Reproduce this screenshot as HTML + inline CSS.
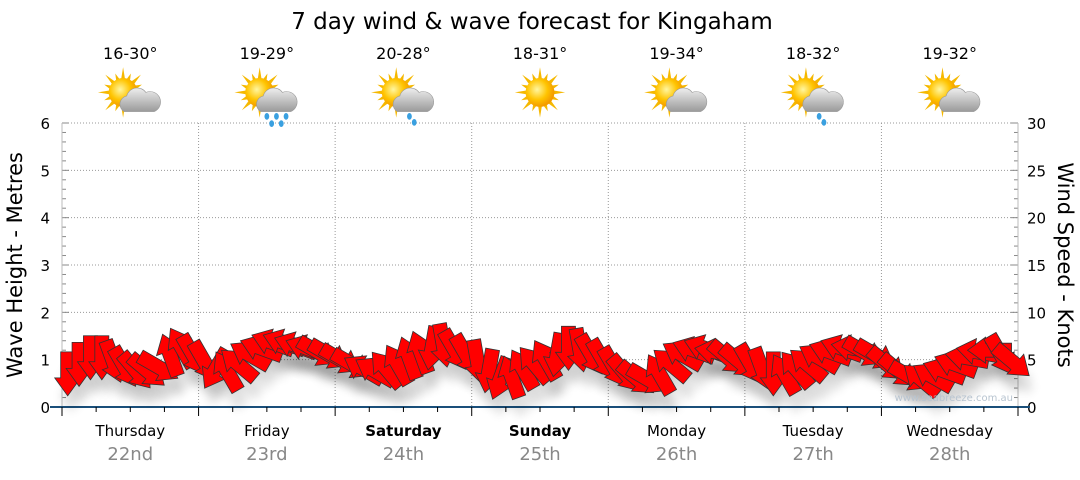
<!DOCTYPE html>
<html><head><meta charset="utf-8"><style>
body{margin:0;background:#fff;font-family:"Liberation Sans","DejaVu Sans",sans-serif}
svg text{font-family:"DejaVu Sans","Liberation Sans",sans-serif}
</style></head><body>
<svg id="c" width="1080" height="475">
<defs>
<filter id="sh" x="-50%" y="-50%" width="200%" height="200%"><feGaussianBlur stdDeviation="5"/></filter>
<radialGradient id="sun" cx="40%" cy="40%" r="60%"><stop offset="0" stop-color="#fff6a0"/><stop offset="0.6" stop-color="#ffc400"/><stop offset="1" stop-color="#f39a00"/></radialGradient>
<linearGradient id="cl" x1="0" y1="0" x2="0" y2="1"><stop offset="0" stop-color="#eeeeee"/><stop offset="1" stop-color="#9a9a9a"/></linearGradient>
</defs>
<text x="532" y="29" font-size="23" text-anchor="middle" fill="#000">7 day wind &amp; wave forecast for Kingaham</text>
<g id="grid"></g><g id="axes"></g><g id="icons"></g><g id="shadows"></g><g id="arrows"></g>
<text x="1013" y="401" font-size="10" text-anchor="end" fill="#b8c4d0">www.seabreeze.com.au</text>
<text transform="translate(22,265) rotate(-90)" font-size="21" text-anchor="middle">Wave Height - Metres</text>
<text transform="translate(1058,265) rotate(90)" font-size="21" text-anchor="middle">Wind Speed - Knots</text>
</svg>
<script>
const days=["Thursday","Friday","Saturday","Sunday","Monday","Tuesday","Wednesday"];
const dates=["22nd","23rd","24th","25th","26th","27th","28th"];
const boldDays=[false,false,true,true,false,false,false];
const temps=["16-30°","19-29°","20-28°","18-31°","19-34°","18-32°","19-32°"];
const iconTypes=["cloud","rain","shower","sun","cloud","shower","cloud"];
const waveTicks=[0,1,2,3,4,5,6];
const knotTicks=[0,5,10,15,20,25,30];
const windKnots=[3.5,4.5,5.2,5.2,4.8,4.2,3.8,3.8,4.2,5.5,6.3,5.5,
 4.8,4.0,3.8,4.5,5.5,6.2,6.8,6.8,6.5,6.2,5.8,5.5,
 5.0,4.5,4.0,3.8,4.0,4.5,5.2,5.8,6.2,6.5,6.0,5.5,
 4.8,3.8,3.0,3.2,4.0,4.5,5.0,5.5,6.2,6.0,5.5,5.0,
 4.2,3.5,3.0,2.9,3.5,4.5,5.5,6.0,6.2,5.8,5.2,4.8,
 4.5,4.0,3.5,3.5,4.0,4.5,5.2,5.8,6.2,6.2,5.8,5.5,
 4.5,3.8,3.2,2.9,3.2,3.8,4.5,5.2,5.8,6.0,5.5,4.8];
const windDir=[90,90,90,90,70,60,50,40,30,250,240,60,
 60,120,240,220,210,200,200,200,200,200,30,30,
 30,30,210,210,230,240,250,250,100,80,60,60,
 80,100,110,250,240,230,240,100,90,80,60,60,
 60,50,40,30,240,220,210,200,200,190,40,40,
 60,70,90,240,230,220,210,200,200,190,30,30,
 40,40,30,220,210,200,200,190,190,180,60,40];
const NS="http://www.w3.org/2000/svg";
const X0=62,X1=1018,Y0=407,Y1=123;
const xDay=d=>X0+(X1-X0)*d/7;
const yWave=m=>Y0-(Y0-Y1)*m/6;
const yKnot=k=>Y0-(Y0-Y1)*k/30;
function mk(tag,attrs,parent){const e=document.createElementNS(NS,tag);for(const k in attrs)e.setAttribute(k,attrs[k]);parent.appendChild(e);return e;}
const grid=document.getElementById('grid'),axes=document.getElementById('axes'),icons=document.getElementById('icons');
waveTicks.forEach(m=>{
  if(m>0){const l=mk('line',{x1:X0,x2:X1,y1:yWave(m),y2:yWave(m),stroke:'#999','stroke-dasharray':'1,2'},grid);
  
  }
  const t=mk('text',{x:50,y:yWave(m)+6,'font-size':15,'text-anchor':'end',fill:'#000'},axes);t.textContent=m;
  
  
});
knotTicks.forEach(k=>{
  const t=mk('text',{x:1027,y:yKnot(k)+6,'font-size':15,fill:'#000'},axes);t.textContent=k;
  
  
});
for(let i=0;i<=30;i++){const y=yKnot(i),w=(i%5==0)?7:4;
  mk('line',{x1:X0,x2:X0+w,y1:y,y2:y,stroke:'#888'},axes);
  mk('line',{x1:X1-w,x2:X1,y1:y,y2:y,stroke:'#888'},axes);}
mk('line',{x1:X0,x2:X0,y1:Y1,y2:Y0,stroke:'#bbb'},axes);
mk('line',{x1:X1,x2:X1,y1:Y1,y2:Y0,stroke:'#bbb'},axes);
for(let d=1;d<7;d++){const l=mk('line',{x1:xDay(d),x2:xDay(d),y1:Y1,y2:Y0,stroke:'#999','stroke-dasharray':'1,2'},grid);
  
  }
const ax=mk('line',{x1:X0-12,x2:X1+12,y1:Y0,y2:Y0,stroke:'#1a4f7a','stroke-width':2},axes);


for(let q=0;q<=28;q++){const x=X0+(X1-X0)*q/28;mk('line',{x1:x,x2:x,y1:Y0,y2:Y0+(q%4==0?9:5),stroke:'#000'},axes);}
days.forEach((d,i)=>{const cx=xDay(i+0.5);
  const t=mk('text',{x:cx,y:436,'font-size':15,'text-anchor':'middle','font-weight':boldDays[i]?'bold':'normal'},axes);t.textContent=d;
  
  
  const t2=mk('text',{x:cx,y:460,'font-size':18,'text-anchor':'middle',fill:'#888'},axes);t2.textContent=dates[i];
  
  
  const t3=mk('text',{x:cx,y:59,'font-size':16,'text-anchor':'middle'},icons);t3.textContent=temps[i];
  
  
  const g=mk('g',{transform:`translate(${cx},96) scale(1.2)`},icons);
  
  
  const sx=iconTypes[i]=='sun'?0:-6;
  for(let r=0;r<16;r++){const a=r*Math.PI/8,L=r%2?17:21;
    mk('polygon',{points:`${sx+Math.cos(a-0.15)*11},${-3+Math.sin(a-0.15)*11} ${sx+Math.cos(a)*L},${-3+Math.sin(a)*L} ${sx+Math.cos(a+0.15)*11},${-3+Math.sin(a+0.15)*11}`,fill:'#f5b800'},g);}
  mk('circle',{cx:sx,cy:-3,r:12,fill:'url(#sun)'},g);
  if(iconTypes[i]!='sun'){
    mk('path',{d:'M-5,13 a7,7 0 0 1 2,-13 a9,9 0 0 1 16,-3 a7,7 0 0 1 7,16 z',fill:'url(#cl)',stroke:'#999','stroke-width':0.5},g);
    if(iconTypes[i]!='cloud'){const drops=iconTypes[i]=='rain'?[[0,17],[8,17],[16,17],[4,23],[12,23]]:[[5,17],[9,22]];
      drops.forEach(p=>mk('ellipse',{cx:p[0],cy:p[1],rx:2,ry:2.8,fill:'#3aa0e0'},g));}
  }
});
const sh=document.getElementById('shadows'),ar=document.getElementById('arrows');
const shape="-22,-7 4,-7 4,-13 22,0 4,13 4,7 -22,7";
windKnots.forEach((k,i)=>{
  const x=xDay((i+0.5)/12),y=yKnot(k),a=windDir[i];
  mk('polygon',{points:shape,transform:`translate(${x+4},${y+16}) rotate(${a})`,fill:'#000',opacity:0.13,filter:'url(#sh)'},sh);
  const p=mk('polygon',{points:shape,transform:`translate(${x},${y}) rotate(${a})`,fill:'#ff0000',stroke:'#333','stroke-width':0.8},ar);
  
  
});
</script>
</body></html>
